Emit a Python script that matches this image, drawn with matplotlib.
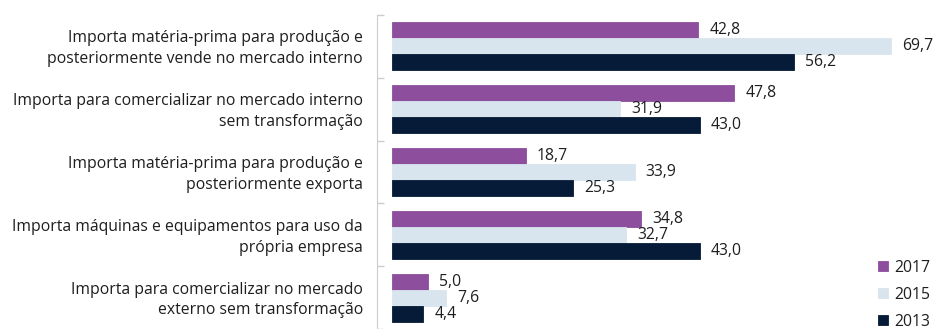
import matplotlib
matplotlib.use("Agg")
import matplotlib.pyplot as plt
import numpy as np

plt.rcParams['font.family'] = ['Open Sans', 'DejaVu Sans']

categories = [
    "Importa matéria-prima para produção e\nposteriormente vende no mercado interno",
    "Importa para comercializar no mercado interno\nsem transformação",
    "Importa matéria-prima para produção e\nposteriormente exporta",
    "Importa máquinas e equipamentos para uso da\nprópria empresa",
    "Importa para comercializar no mercado\nexterno sem transformação",
]
years = ["2017", "2015", "2013"]
values_2017 = [42.8, 47.8, 18.7, 34.8, 5.0]
values_2015 = [69.7, 31.9, 33.9, 32.7, 7.6]
values_2013 = [56.2, 43.0, 25.3, 43.0, 4.4]
series = [values_2017, values_2015, values_2013]
colors = ["#8d4f9d", "#d8e5ee", "#061b37"]

FS = 11.3
TXT = "#1e1e1e"

fig = plt.figure(figsize=(9.36, 3.29), dpi=100)
ax = fig.add_axes([392 / 936, 0.0, 1 - 392 / 936, 1 - 15 / 329])

n = len(categories)
centers = np.arange(n) + 0.5
h = 0.254
offsets = [-h, 0.0, h]

for vals, col, off, yr in zip(series, colors, offsets, years):
    bars = ax.barh(centers + off, vals, height=h, color=col, label=yr,
                   edgecolor=col, linewidth=0.6)
    for b, v in zip(bars, vals):
        ax.annotate(f"{v:.1f}".replace(".", ","),
                    xy=(v, b.get_y() + b.get_height() / 2),
                    xytext=(11, 0), textcoords="offset pixels",
                    va="center", ha="left", fontsize=FS, color=TXT)

ax.set_xlim(0, 76)
ax.set_ylim(n, 0)
ax.set_xticks([])
ax.set_yticks(np.arange(n + 1))
ax.set_yticklabels([])
ax.tick_params(axis="y", direction="in", length=5, color="#cccccc", width=1)
for s in ["top", "right", "bottom"]:
    ax.spines[s].set_visible(False)
ax.spines["left"].set_color("#cccccc")
ax.spines["left"].set_position(("outward", 10.8))

for c, lab in zip(centers, categories):
    ax.annotate(lab, xy=(0, c), xycoords=("axes fraction", "data"),
                xytext=(-29, -2.5), textcoords="offset pixels",
                ha="right", va="center", multialignment="right",
                fontsize=FS, color=TXT, linespacing=1.4)

fig.legend(loc="lower right", bbox_to_anchor=(1.0 + 5 / 936, -0.035),
           frameon=False, fontsize=FS, handlelength=0.6, handleheight=0.6,
           handletextpad=0.4, labelspacing=0.7, borderpad=0.2, labelcolor=TXT)

fig.savefig("out.png", dpi=100)
